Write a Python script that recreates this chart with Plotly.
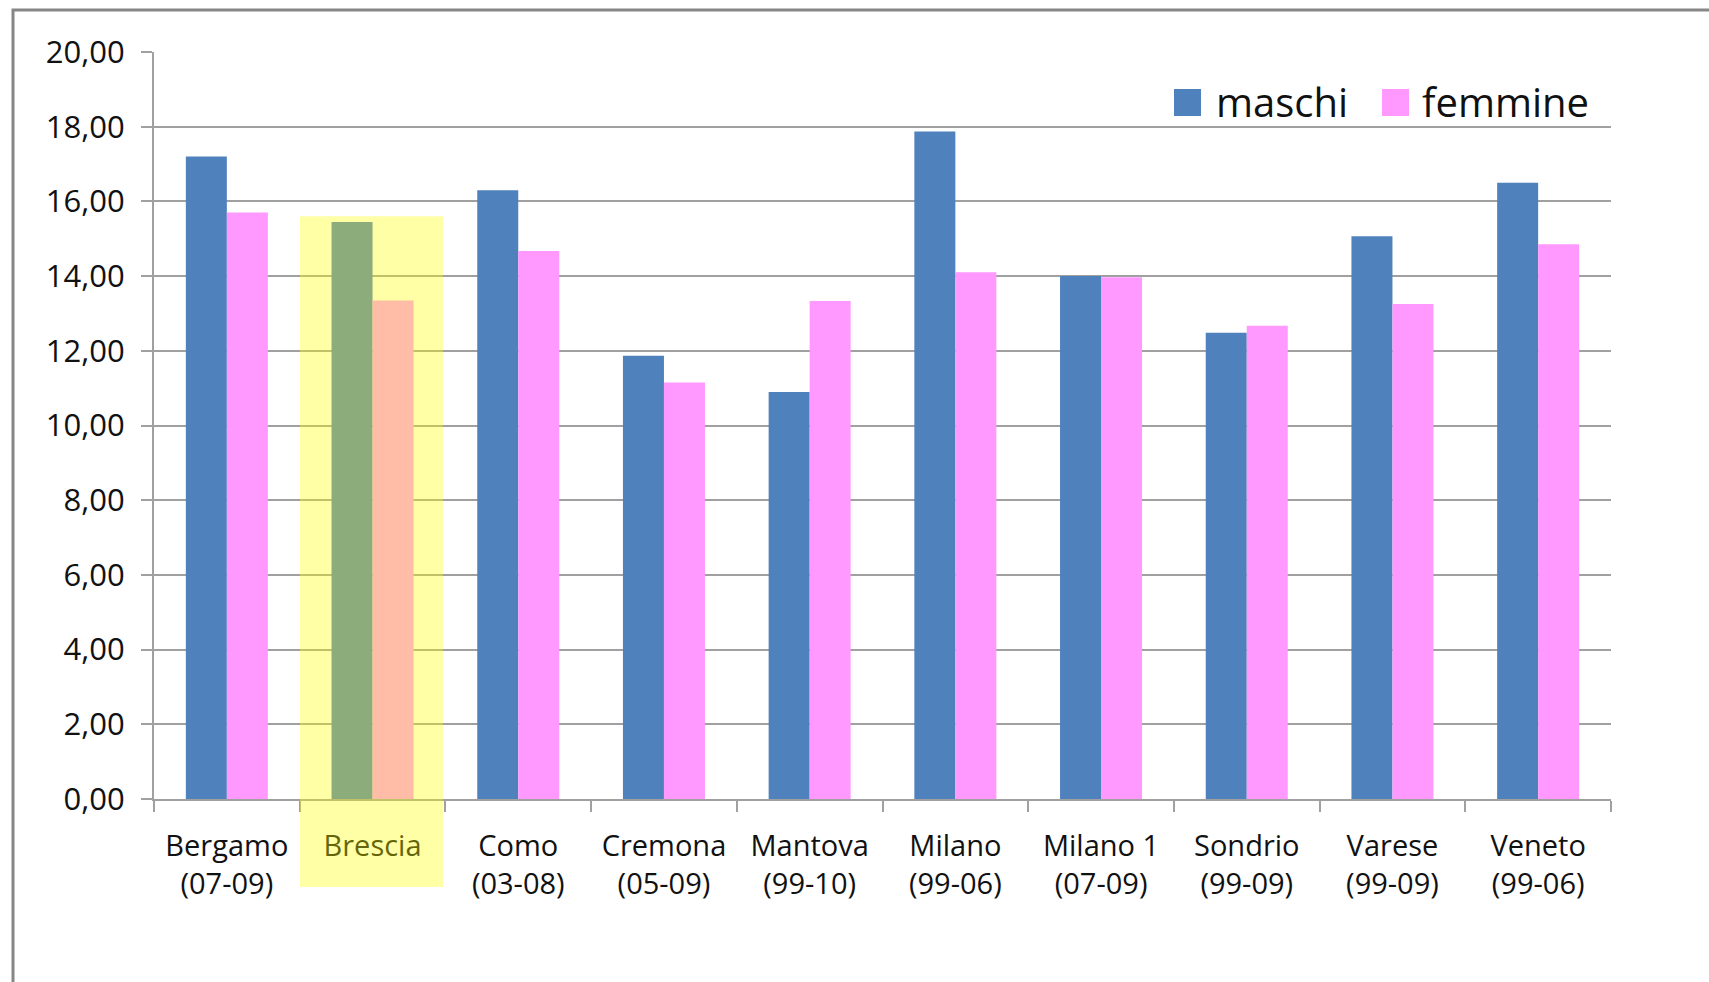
import plotly.graph_objects as go

# Areas and observation periods
areas = ["Bergamo", "Brescia", "Como", "Cremona", "Mantova",
         "Milano", "Milano 1", "Sondrio", "Varese", "Veneto"]
periods = ["(07-09)", "(99-09)", "(03-08)", "(05-09)", "(99-10)",
           "(99-06)", "(07-09)", "(99-09)", "(99-09)", "(99-06)"]

series_names = ["maschi", "femmine"]
maschi = [17.20, 15.45, 16.30, 11.87, 10.90, 17.87, 14.00, 12.48, 15.07, 16.50]
femmine = [15.70, 13.35, 14.67, 11.15, 13.33, 14.10, 13.97, 12.67, 13.25, 14.85]

y_ticks = [0, 2, 4, 6, 8, 10, 12, 14, 16, 18, 20]
Y_MAX = 20

BLUE = "#4F81BD"
PINK = "#FF99FF"
GRID = "#A0A0A0"
TEXT = "#111111"
FONT = "Open Sans"

W, H = 1709, 982
ML, MR, MT, MB = 154, 98, 52, 183
PW, PH = W - ML - MR, H - MT - MB


def px_to_paper_x(px):
    return (px - ML) / PW


def px_to_paper_y(py):
    return (H - MB - py) / PH


# category labels: the highlighted area shows only its name
categories = []
for a, p in zip(areas, periods):
    categories.append(a if a == "Brescia" else a + "<br>" + p)

fig = go.Figure()
fig.add_trace(go.Bar(x=categories, y=maschi, name=series_names[0],
                     marker=dict(color=BLUE, line=dict(width=0))))
fig.add_trace(go.Bar(x=categories, y=femmine, name=series_names[1],
                     marker=dict(color=PINK, line=dict(width=0))))

shapes = []
# translucent yellow highlight over the Brescia group, reaching into the labels
n = len(areas)
hl = areas.index("Brescia")
shapes.append(dict(type="rect", xref="paper", yref="paper",
                   x0=(hl + 0.002) / n, x1=(hl + 0.983) / n,
                   y0=px_to_paper_y(887), y1=15.6 / Y_MAX,
                   fillcolor="rgba(255,255,0,0.35)", line=dict(width=0),
                   layer="above"))

# outer frame (left and top edges)
fx = px_to_paper_x(13)
fy_top = px_to_paper_y(10)
fy_bot = px_to_paper_y(H + 20)
fx_right = px_to_paper_x(W + 20)
shapes.append(dict(type="path", xref="paper", yref="paper",
                   path=f"M {fx},{fy_bot} L {fx},{fy_top} L {fx_right},{fy_top}",
                   line=dict(color="#868686", width=3)))

# legend swatches and names
legend_items = [(series_names[0], BLUE, 1174, 1214),
                (series_names[1], PINK, 1382, 1420)]
annotations = []
for name, col, sx, tx in legend_items:
    shapes.append(dict(type="rect", xref="paper", yref="paper",
                       x0=px_to_paper_x(sx), x1=px_to_paper_x(sx + 27),
                       y0=px_to_paper_y(116), y1=px_to_paper_y(89),
                       fillcolor=col, line=dict(width=0)))
    annotations.append(dict(xref="paper", yref="paper",
                            x=px_to_paper_x(tx), y=px_to_paper_y(101),
                            xanchor="left", yanchor="middle", showarrow=False,
                            text=name, font=dict(family=FONT, size=40, color=TEXT)))

fig.update_layout(
    width=W, height=H,
    margin=dict(l=ML, r=MR, t=MT, b=MB),
    paper_bgcolor="white", plot_bgcolor="white",
    barmode="group", bargap=0.437, bargroupgap=0,
    separators=",.",
    font=dict(family=FONT, size=29, color=TEXT),
    shapes=shapes, annotations=annotations,
    showlegend=False,
)
fig.update_xaxes(
    type="category",
    showline=True, linecolor=GRID, linewidth=2,
    ticks="outside", ticklen=11, tickcolor=GRID, tickwidth=2,
    tickson="boundaries", showgrid=False,
    ticklabelstandoff=20,
    tickfont=dict(family=FONT, size=29, color=TEXT),
)
fig.update_yaxes(
    range=[0, Y_MAX], tickmode="array", tickvals=y_ticks, tickformat=".2f",
    showline=True, linecolor=GRID, linewidth=2,
    ticks="outside", ticklen=11, tickcolor=GRID, tickwidth=2,
    showgrid=True, gridcolor=GRID, gridwidth=2, zeroline=False,
    ticklabelstandoff=10,
    tickfont=dict(family=FONT, size=31, color=TEXT),
)

fig.write_html("out.html")
